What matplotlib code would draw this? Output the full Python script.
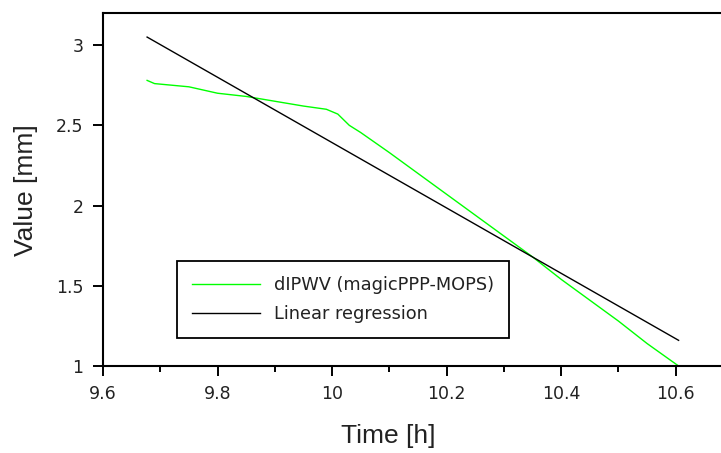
import numpy as np
import matplotlib.pyplot as plt
from matplotlib.ticker import MultipleLocator

# ------------------------------------------------------------------
#  data
# ------------------------------------------------------------------
time_h = [9.677, 9.69, 9.75, 9.80, 9.85, 9.90, 9.95, 9.99, 10.01, 10.03,
          10.05, 10.10, 10.15, 10.20, 10.25, 10.30, 10.35, 10.40, 10.45,
          10.50, 10.55, 10.605]
dipwv = [2.78, 2.76, 2.74, 2.70, 2.68, 2.65, 2.62, 2.60, 2.57, 2.50,
         2.455, 2.33, 2.20, 2.07, 1.94, 1.81, 1.68, 1.54, 1.41,
         1.28, 1.14, 1.00]
reg_t = [9.677, 10.605]
reg_v = [3.05, 1.16]

x_ticks = [9.6, 9.8, 10.0, 10.2, 10.4, 10.6]
x_ticklabels = ['9.6', '9.8', '10', '10.2', '10.4', '10.6']
y_ticks = [1, 1.5, 2, 2.5, 3]
y_ticklabels = ['1', '1.5', '2', '2.5', '3']

# ------------------------------------------------------------------
fig = plt.figure(figsize=(7.21, 4.53), dpi=100, facecolor='white')
ax = fig.add_axes([103/721, 1-366/453, 630/721, 353/453])

ax.plot(time_h, dipwv, color='#00ff00', lw=1.0, label='dIPWV (magicPPP-MOPS)')
ax.plot(reg_t, reg_v, color='black', lw=1.0, label='Linear regression')

ax.set_xlim(9.6, 10.7)
ax.set_ylim(1, 3.2)
ax.set_xticks(x_ticks)
ax.set_xticklabels(x_ticklabels)
ax.set_yticks(y_ticks)
ax.set_yticklabels(y_ticklabels)
ax.xaxis.set_minor_locator(MultipleLocator(0.1))

for s in ['left', 'bottom', 'top']:
    ax.spines[s].set_linewidth(1.5)
ax.spines['right'].set_visible(False)

ax.tick_params(which='major', direction='out', length=7, width=1.4,
               labelsize=12.5, labelcolor='#222222', pad=7,
               labelfontfamily='DejaVu Sans')
ax.tick_params(which='minor', direction='out', length=4, width=1.4)
ax.tick_params(axis='y', which='minor', left=False)

ax.set_xlabel('Time [h]', fontsize=19, family='Liberation Sans', color='#222222')
ax.set_ylabel('Value [mm]', fontsize=19, family='Liberation Sans', color='#222222')
ax.xaxis.set_label_coords((388-103)/630, -(424-366)/353)
ax.yaxis.set_label_coords(-(103-38)/630, (366-190)/353)

leg = ax.legend(loc='lower left', bbox_to_anchor=(177/721, 1-338/453),
                bbox_transform=fig.transFigure, borderaxespad=0,
                fancybox=False, framealpha=1, edgecolor='black',
                borderpad=0.85, labelspacing=0.6, handlelength=3.8,
                handletextpad=0.8,
                prop={'family': 'DejaVu Sans', 'size': 12.8})
leg.get_frame().set_linewidth(1.3)
for t in leg.get_texts():
    t.set_color('#222222')

fig.savefig('out.png', dpi=100)
